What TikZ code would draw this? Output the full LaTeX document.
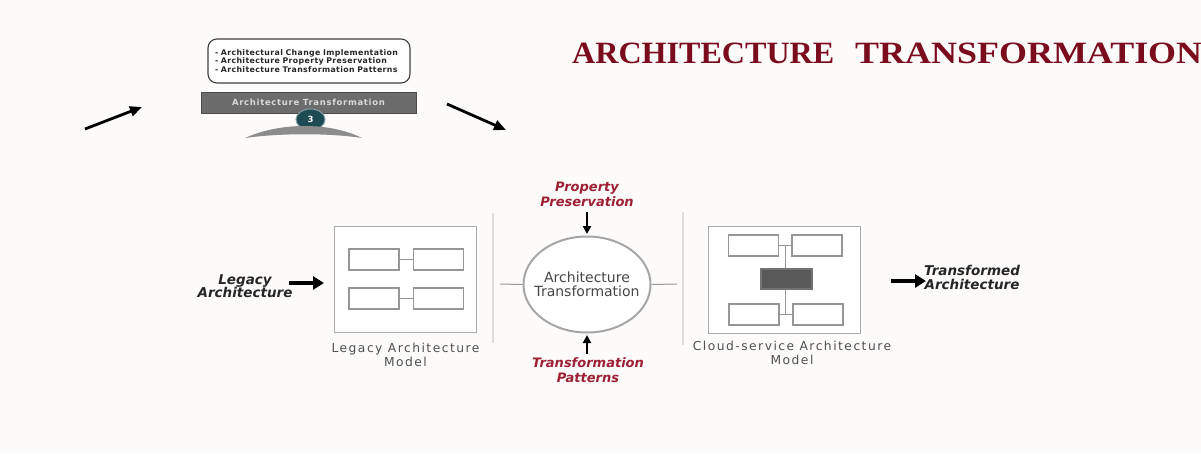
\documentclass[tikz,border=0pt]{standalone}
\usepackage{fontspec}
\setmainfont{DejaVu Sans}
\newfontfamily\titlefont{Liberation Serif}
\usetikzlibrary{arrows.meta,shapes.geometric}
\definecolor{bg}{RGB}{252,251,250}
\definecolor{titlered}{RGB}{122,12,30}
\definecolor{labelred}{RGB}{158,32,52}
\definecolor{boxgray}{RGB}{172,172,172}
\definecolor{innergray}{RGB}{150,150,150}
\definecolor{textgray}{RGB}{80,80,80}
\definecolor{barfill}{RGB}{108,108,108}
\definecolor{tealdark}{RGB}{30,74,84}
\definecolor{domegray}{RGB}{140,140,140}
\tikzset{
  frame/.style={draw=boxgray, line width=1pt, fill=white, minimum width=#1},
  unit/.style={draw=innergray, line width=1.6pt, fill=white, minimum width=50pt, minimum height=21pt, inner sep=0pt},
  link/.style={draw=innergray, line width=1.3pt},
  divider/.style={draw=black!13, line width=1.3pt},
  heavyarrow/.style={-{Triangle[length=11pt,width=13pt]}, line width=4.5pt},
  slimarrow/.style={-{Triangle[length=8pt,width=8pt]}, line width=2.4pt},
  diagarrow/.style={-{Triangle[length=12pt,width=10pt]}, line width=2.8pt},
  redlabel/.style={text=labelred, font=\fontsize{13}{15}\selectfont\bfseries\itshape, align=center, inner sep=0pt},
  blacklabel/.style={text=black!85, font=\fontsize{13.5}{13.5}\selectfont\bfseries\itshape, align=center, inner sep=0pt},
  graylabel/.style={text=textgray, font=\fontsize{12.3}{14}\selectfont\addfontfeature{LetterSpace=12}, align=center, inner sep=0pt},
  titletext/.style={anchor=west, inner sep=0pt, text=titlered, font=\titlefont\bfseries\fontsize{31}{31}\selectfont},
}
\begin{document}
\begin{tikzpicture}[x=1pt,y=-1pt]
\fill[bg] (0,0) rectangle (1201,453);
\useasboundingbox (0,0) rectangle (1201,453);

% title
\node[titletext, xscale=1.035] (title1) at (572,53) {ARCHITECTURE};
\node[titletext, xscale=1.16] (title2) at (855,53) {TRANSFORMATION};

% top graphic
\node[draw=black!75, line width=1.1pt, rounded corners=9pt, fill=white, minimum width=202pt, minimum height=44pt, text width=188pt, align=left, text=black!85, font=\fontsize{7.8}{7.6}\selectfont\bfseries\addfontfeature{LetterSpace=5}, inner sep=0pt] (bul) at (309,61)
{- Architectural Change Implementation\\- Architecture Property Preservation\\- Architecture Transformation Patterns};
\node[draw=black!70, line width=1pt, fill=barfill, minimum width=215pt, minimum height=21pt, text=black!15, font=\fontsize{8.5}{8.5}\selectfont\bfseries\addfontfeature{LetterSpace=8}, inner sep=0pt] (bar) at (308.5,102.5) {Architecture Transformation};
\node[ellipse, draw=tealdark!55, line width=1pt, fill=tealdark, minimum width=29pt, minimum height=21pt, inner sep=0pt, text=white, font=\fontsize{8.5}{8.5}\selectfont\bfseries] (three) at (310.5,119.5) {3};
\fill[domegray] (245,138) .. controls (280,122) and (330,122) .. (362,138) .. controls (330,133) and (280,133) .. (245,138);
\coordinate (la0) at (85,129);
\coordinate (la1) at (142,107);
\coordinate (ra0) at (447,104);
\coordinate (ra1) at (506,130);
\draw[diagarrow] (la0) -- (la1);
\draw[diagarrow] (ra0) -- (ra1);

% dividers
\coordinate (d1t) at (493,213);
\coordinate (d1b) at (493,343);
\coordinate (d2t) at (683,212);
\coordinate (d2b) at (683,345);
\draw[divider] (d1t) -- (d1b);
\draw[divider] (d2t) -- (d2b);

% legacy model
\node[frame=142pt, minimum height=106pt] (legacy) at (405,279.5) {};
\node[unit] (L1a) at (374,259.5) {};
\node[unit] (L1b) at (438.5,259.5) {};
\node[unit] (L2a) at (374,298.5) {};
\node[unit] (L2b) at (438.5,298.5) {};
\draw[link] (L1a.east) -- (L1b.west);
\draw[link] (L2a.east) -- (L2b.west);
\node[graylabel] (legacytxt) at (405.5,355) {Legacy Architecture\\Model};

% input
\node[blacklabel] (inlbl) at (245,286) {Legacy\\Architecture};
\coordinate (in0) at (289,283);
\coordinate (in1) at (324,283);
\draw[heavyarrow] (in0) -- (in1);

% core
\node[ellipse, draw=black!35, line width=2pt, fill=white, minimum width=127pt, minimum height=96pt, inner sep=0pt] (core) at (587,284.5) {};
\node[align=center, inner sep=0pt, text=black!72, font=\fontsize{14}{14}\selectfont] (coretxt) at (core.center) {Architecture\\Transformation};
\coordinate (hl) at (500,284);
\coordinate (hr) at (677,284);
\draw[draw=black!40, line width=1pt] (hl) -- (core.west);
\draw[draw=black!40, line width=1pt] (core.east) -- (hr);

\node[redlabel] (pp) at (587,194) {Property\\Preservation};
\coordinate (ppstart) at (587,212);
\coordinate (ppend) at (587,234);
\draw[slimarrow] (ppstart) -- (ppend);
\node[redlabel] (tp) at (588,370) {Transformation\\Patterns};
\coordinate (tpstart) at (587,354);
\coordinate (tpend) at (587,335);
\draw[slimarrow] (tpstart) -- (tpend);

% cloud model
\node[frame=152pt, minimum height=107pt] (cloud) at (784,279.5) {};
\node[unit] (C1a) at (753.5,245.5) {};
\node[unit] (C1b) at (817,245.5) {};
\node[unit, fill=black!65, draw=black!55, minimum width=51pt, minimum height=20pt] (Cm) at (786.5,279) {};
\node[unit] (C2a) at (754,314.5) {};
\node[unit] (C2b) at (818,314.5) {};
\draw[link] (C1a.east) -- (C1b.west);
\draw[link] (C2a.east) -- (C2b.west);
\coordinate (cv1) at (785.5,245.5);
\coordinate (cv2) at (785.5,314.5);
\draw[link] (cv1) -- (Cm.north -| cv1);
\draw[link] (Cm.south -| cv2) -- (cv2);
\node[graylabel] (cloudtxt) at (792,353) {Cloud-service Architecture\\Model};

% output
\coordinate (out0) at (891,281);
\coordinate (out1) at (926,281);
\draw[heavyarrow] (out0) -- (out1);
\node[blacklabel] (outlbl) at (972,277.5) {Transformed\\Architecture};
\end{tikzpicture}
\end{document}
